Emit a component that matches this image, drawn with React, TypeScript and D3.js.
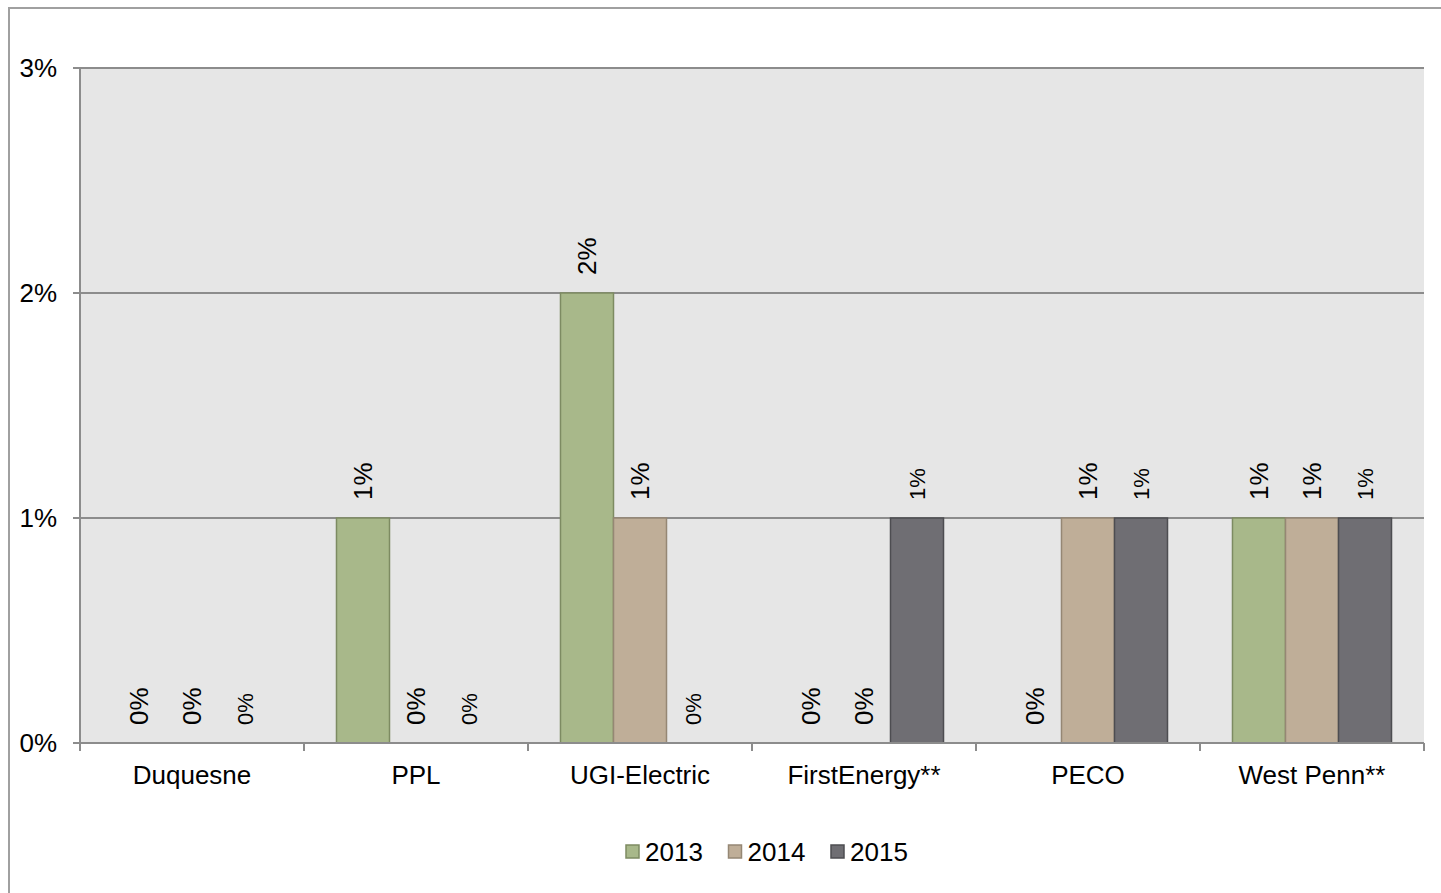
import * as d3 from 'd3'

const categories = ['Duquesne', 'PPL', 'UGI-Electric', 'FirstEnergy**', 'PECO', 'West Penn**']
const seriesNames = ['2013', '2014', '2015']
const values2013 = [0, 1, 2, 0, 0, 1]
const values2014 = [0, 0, 1, 0, 1, 1]
const values2015 = [0, 0, 0, 1, 1, 1]
const yTicks = [0, 1, 2, 3]

const seriesValues = [values2013, values2014, values2015]
const fills = ['#a8b88a', '#bfae98', '#6f6e73']
const strokes = ['#7d8b62', '#958774', '#4d4d51']
const labelSizes = [26, 26, 22]

const width = 1441
const height = 893
const marginLeft = 80
const marginRight = 17
const marginTop = 68
const plotBottom = 743
const font = '"Liberation Sans", Arial, sans-serif'

export default function App() {
	const x0 = d3
		.scaleBand()
		.domain(categories)
		.range([marginLeft, width - marginRight])
		.paddingInner(0)
		.paddingOuter(0)
	const x1 = d3.scaleBand().domain(seriesNames).range([0, x0.bandwidth()]).paddingInner(0).paddingOuter(0.613)
	const y = d3.scaleLinear().domain([0, 3]).range([plotBottom, marginTop])
	const plotRight = x0.range()[1]

	return (
		<svg
			width={width}
			height={height}
			style={{ position: 'absolute', left: 0, top: 0, background: '#fff' }}
			fontFamily={font}
		>
			{/* рамка */}
			<rect x={9} y={8} width={width} height={height} fill="#fff" stroke="#a0a0a0" strokeWidth={2} />
			<rect x={marginLeft} y={marginTop} width={plotRight - marginLeft} height={plotBottom - marginTop} fill="#e6e6e6" />
			{yTicks.map((t) => (
				<g key={t}>
					<line x1={73} x2={plotRight} y1={y(t)} y2={y(t)} stroke="#8c8c8c" strokeWidth={2} />
					<text x={57} y={y(t) + 9} textAnchor="end" fontSize={26} fill="#000">
						{t}%
					</text>
				</g>
			))}
			<line x1={marginLeft} x2={marginLeft} y1={marginTop} y2={plotBottom} stroke="#8c8c8c" strokeWidth={2} />
			{[...categories.map((c) => x0(c)!), plotRight].map((tx, i) => (
				<line key={i} x1={tx} x2={tx} y1={plotBottom} y2={plotBottom + 8} stroke="#8c8c8c" strokeWidth={2} />
			))}
			{/* столбики */}
			{categories.map((c, ci) =>
				seriesNames.map((s, si) => {
					const v = seriesValues[si][ci]
					const bx = x0(c)! + x1(s)!
					const top = y(v)
					return (
						<g key={c + s}>
							{v > 0 && (
								<rect
									x={bx}
									y={top}
									width={x1.bandwidth()}
									height={plotBottom - top}
									fill={fills[si]}
									stroke={strokes[si]}
									strokeWidth={1.5}
								/>
							)}
							<text
								transform={`translate(${bx + x1.bandwidth() / 2},${top - 18}) rotate(-90)`}
								dominantBaseline="central"
								fontSize={labelSizes[si]}
								fill="#000"
							>
								{v}%
							</text>
						</g>
					)
				})
			)}
			<line x1={marginLeft} x2={plotRight} y1={plotBottom} y2={plotBottom} stroke="#8c8c8c" strokeWidth={2} />
			{categories.map((c) => (
				<text key={c} x={x0(c)! + x0.bandwidth() / 2} y={784} textAnchor="middle" fontSize={26} fill="#000">
					{c}
				</text>
			))}
			{/* легенда */}
			{seriesNames.map((s, i) => (
				<g key={s} transform={`translate(${626 + i * 102.5},845)`}>
					<rect x={0} y={0} width={13} height={13} fill={fills[i]} stroke={strokes[i]} strokeWidth={1.5} />
					<text x={19} y={16} fontSize={26} fill="#000">
						{s}
					</text>
				</g>
			))}
		</svg>
	)
}
